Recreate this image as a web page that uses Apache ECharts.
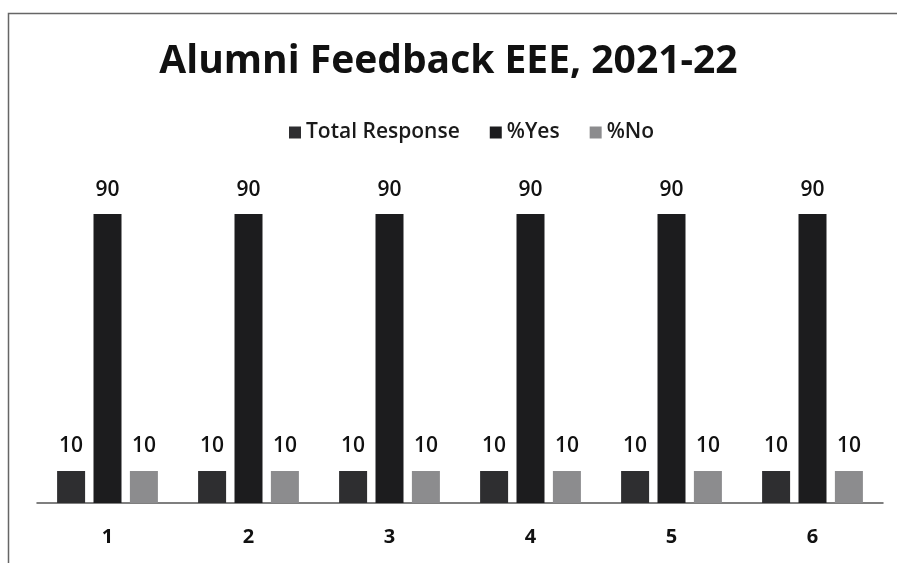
<!DOCTYPE html>
<html>
<head>
<meta charset="utf-8">
<script src="https://cdn.jsdelivr.net/npm/echarts@6/dist/echarts.min.js"></script>
<style>
html,body{margin:0;padding:0;background:#fff;}
#chart{width:897px;height:563px;}
</style>
</head>
<body>
<div id="chart"></div>
<script>
const categories = ['1', '2', '3', '4', '5', '6'];
const totalResponse = [10, 10, 10, 10, 10, 10];
const pctYes = [90, 90, 90, 90, 90, 90];
const pctNo = [10, 10, 10, 10, 10, 10];
const seriesNames = ['Total Response', '%Yes', '%No'];
const seriesColors = ['#2e2e30', '#1c1c1e', '#8c8c8e'];

const chart = echarts.init(document.getElementById('chart'));
const font = '"Open Sans", Lato, sans-serif';
const labelCfg = {show: true, position: 'top', distance: 14, color: '#111', fontSize: 21, fontFamily: font, fontWeight: 600};
function mk(i, data) {
  return {
    name: seriesNames[i], type: 'bar', data: data, barWidth: 28, barGap: '30%',
    itemStyle: {color: seriesColors[i]}, label: labelCfg
  };
}
chart.setOption({
  animation: false,
  backgroundColor: '#fff',
  title: {
    text: 'Alumni Feedback EEE, 2021-22', left: 'center', top: 37,
    textStyle: {fontSize: 39, fontWeight: 'bold', color: '#111', fontFamily: font}
  },
  legend: {
    top: 117, left: 284, itemWidth: 12, itemHeight: 12, itemGap: 30,
    icon: 'rect',
    textStyle: {fontSize: 21, color: '#1a1a1a', fontFamily: font, fontWeight: 600}
  },
  grid: {left: 37, right: 14, top: 182, bottom: 60},
  xAxis: {
    type: 'category', data: categories,
    axisLine: {lineStyle: {color: '#555', width: 1.5}},
    axisTick: {show: false},
    axisLabel: {fontSize: 20, color: '#111', margin: 24, fontFamily: font, fontWeight: 'bold'}
  },
  yAxis: {type: 'value', min: 0, max: 100, show: false, splitLine: {show: false}},
  graphic: [{
    type: 'rect', shape: {x: 8.5, y: 13.5, width: 950, height: 600},
    style: {fill: 'none', stroke: '#666', lineWidth: 1.5}
  }],
  series: [mk(0, totalResponse), mk(1, pctYes), mk(2, pctNo)]
});
</script>
</body>
</html>
